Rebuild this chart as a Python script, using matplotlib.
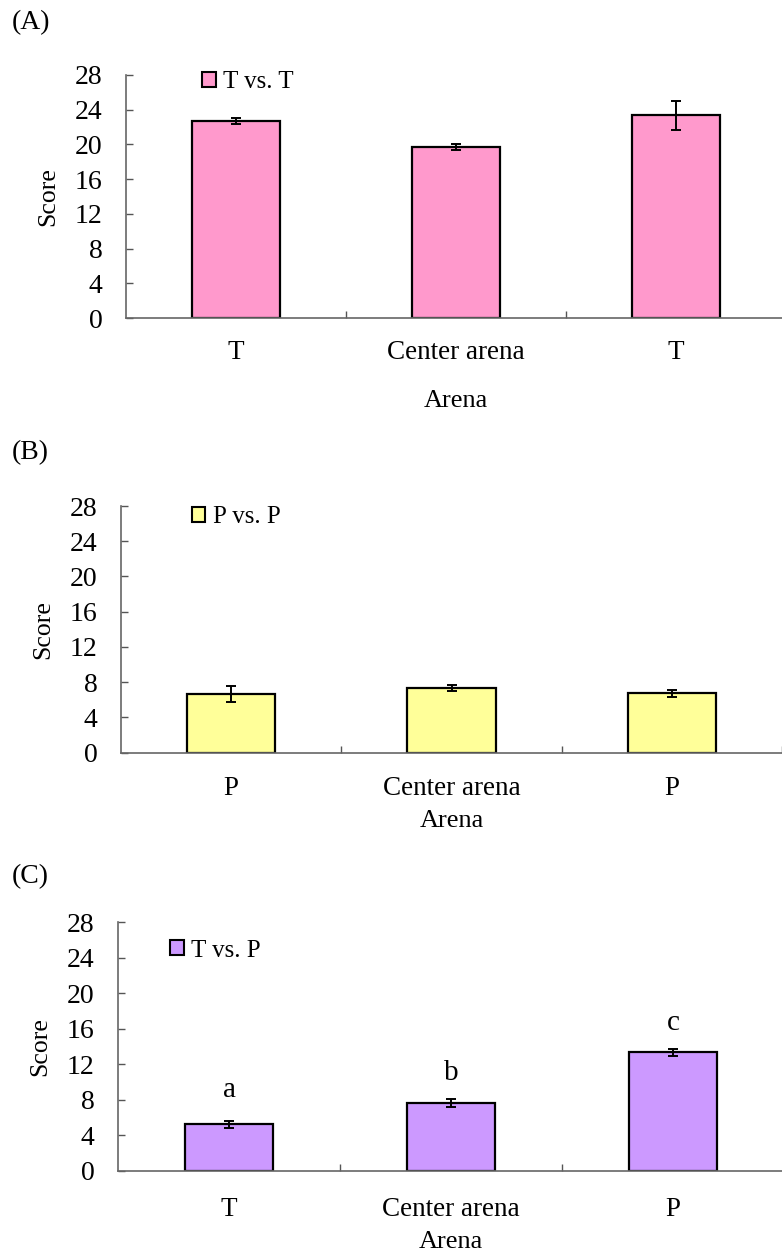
import matplotlib.pyplot as plt
import matplotlib
import numpy as np
from matplotlib.patches import Patch

matplotlib.rcParams.update({'font.family': 'Liberation Serif', 'font.size': 19})

# scores per arena zone, mean and s.e.
labels_a = ['T', 'Center arena', 'T']
score_a = [22.7, 19.7, 23.35]
err_a = [0.38, 0.36, 1.65]

labels_b = ['P', 'Center arena', 'P']
score_b = [6.68, 7.31, 6.72]
err_b = [0.9, 0.36, 0.42]

labels_c = ['T', 'Center arena', 'P']
score_c = [5.26, 7.62, 13.35]
err_c = [0.42, 0.43, 0.4]
letters_c = ['a', 'b', 'c']
letter_y = [9.1, 11.0, 16.7]

W, H = 782, 1254
fig = plt.figure(figsize=(W/100, H/100), dpi=100)

def frac(left, right, top, bottom):
    return [left/W, 1-bottom/H, (right-left)/W, (bottom-top)/H]

def panel(rect, labels, vals, errs, color, legname, leg_xy, tickpad, labelpad):
    ax = fig.add_axes(rect)
    x = np.arange(len(vals))
    ax.bar(x, vals, width=0.40, color=color, edgecolor='black', linewidth=1.6,
           yerr=errs, error_kw=dict(ecolor='black', elinewidth=1.4, capsize=3.8, capthick=1.4),
           zorder=2)
    ax.set_xlim(-0.5, 2.5)
    ax.set_ylim(0, 28)
    ax.set_yticks(np.arange(0, 29, 4))
    ax.set_xticks(x)
    ax.set_xticklabels(labels, fontsize=19.5)
    ax.set_xticks([0.5, 1.5, 2.5], minor=True)
    ax.tick_params(axis='x', which='major', length=0, pad=tickpad)
    ax.tick_params(axis='x', which='minor', direction='in', length=5, width=1, color='#555555')
    ax.tick_params(axis='y', direction='in', length=5, width=1, color='#555555', labelsize=20, pad=17)
    for s in ['top', 'right']:
        ax.spines[s].set_visible(False)
    for s in ['left', 'bottom']:
        ax.spines[s].set_color('#666666')
        ax.spines[s].set_linewidth(1.2)
    ax.set_ylabel('Score', fontsize=18.5, labelpad=11)
    ax.set_xlabel('Arena', fontsize=19, labelpad=labelpad)
    h = Patch(facecolor=color, edgecolor='black', linewidth=1.5)
    ax.legend([h], [legname], loc='upper left', bbox_to_anchor=leg_xy, frameon=False,
              fontsize=18, handlelength=0.55, handleheight=0.55, handletextpad=0.3,
              borderpad=0, borderaxespad=0)
    return ax

ax1 = panel(frac(126, 786, 75, 318), labels_a, score_a, err_a, '#FF99CC', 'T vs. T',
            (0.115, 1.015), 16, 18)
ax2 = panel(frac(121, 782, 506, 752.7), labels_b, score_b, err_b, '#FFFF99', 'P vs. P',
            (0.107, 1.0), 16.5, 7)
ax3 = panel(frac(118, 784, 922.3, 1171), labels_c, score_c, err_c, '#CC99FF', 'T vs. P',
            (0.078, 0.93), 19, 6)

for xi, (t, yv) in enumerate(zip(letters_c, letter_y)):
    ax3.text(xi, yv, t, ha='center', va='center', fontsize=21)

fig.text(12/W, 1-23/H, '(A)', fontsize=20, va='center', ha='left')
fig.text(12/W, 1-453/H, '(B)', fontsize=20, va='center', ha='left')
fig.text(12/W, 1-877/H, '(C)', fontsize=20, va='center', ha='left')

plt.savefig('out.png', dpi=100)
